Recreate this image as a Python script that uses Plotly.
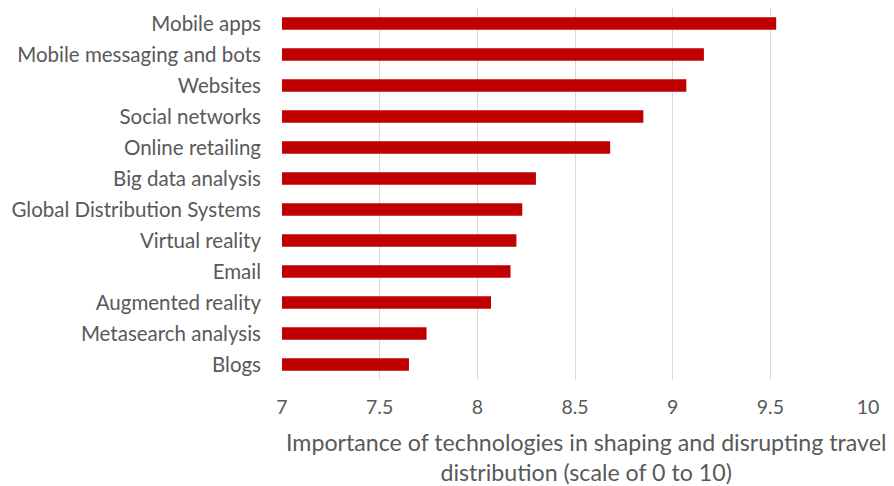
import plotly.graph_objects as go

# Technologies and their importance scores (scale of 0 to 10), top to bottom
technologies = [
    "Mobile apps",
    "Mobile messaging and bots",
    "Websites",
    "Social networks",
    "Online retailing",
    "Big data analysis",
    "Global Distribution Systems",
    "Virtual reality",
    "Email",
    "Augmented reality",
    "Metasearch analysis",
    "Blogs",
]
scores = [9.53, 9.16, 9.07, 8.85, 8.68, 8.30, 8.23, 8.20, 8.17, 8.07, 7.74, 7.65]

axis_min = 7
tick_values = [7, 7.5, 8, 8.5, 9, 9.5, 10]
tick_labels = ["7", "7.5", "8", "8.5", "9", "9.5", "10"]

axis_title = "Importance of technologies in shaping and disrupting travel<br>distribution (scale of 0 to 10)"

text_color = "#595959"
font_family = "Lato, Carlito, Calibri, sans-serif"

fig = go.Figure(
    go.Bar(
        x=[s - axis_min for s in scores],
        y=technologies,
        base=axis_min,
        orientation="h",
        width=0.40,
        marker=dict(color="#C00000", line=dict(width=0)),
    )
)

fig.update_layout(
    width=894,
    height=486,
    margin=dict(l=282, r=26, t=8, b=106),
    paper_bgcolor="white",
    plot_bgcolor="white",
    showlegend=False,
    font=dict(family=font_family, size=18, color=text_color),
)

fig.update_xaxes(
    range=[7, 10],
    tickmode="array",
    tickvals=tick_values,
    ticktext=tick_labels,
    showgrid=True,
    gridcolor="#d9d9d9",
    gridwidth=1,
    zeroline=False,
    showline=False,
    ticks="",
    ticklabelstandoff=13,
    tickfont=dict(size=19.5, color=text_color),
)

fig.update_yaxes(
    autorange="reversed",
    showgrid=False,
    showline=False,
    ticks="",
    ticklabelstandoff=20,
    tickfont=dict(size=20.5, color=text_color),
)

# Two-line axis title below the tick labels, as one centred block
fig.add_annotation(
    text=axis_title,
    xref="paper",
    yref="paper",
    x=(586 - 282) / (894 - 282 - 26),
    y=0,
    xanchor="center",
    yanchor="middle",
    yshift=-77,
    showarrow=False,
    align="center",
    font=dict(family=font_family, size=23.2, color=text_color),
)

fig.write_html("out.html")
